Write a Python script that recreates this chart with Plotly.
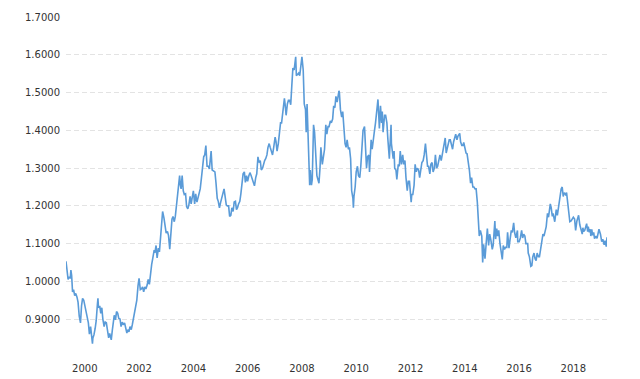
import plotly.graph_objects as go

dates = [
"1999-11-05","1999-11-19","1999-12-03","1999-12-17",
"2000-01-01","2000-01-10","2000-01-20","2000-02-01","2000-02-15","2000-03-01","2000-03-15","2000-04-01","2000-04-15","2000-05-01","2000-05-18","2000-06-01","2000-06-15","2000-07-01","2000-07-15","2000-08-01","2000-08-15","2000-09-01","2000-09-15","2000-10-01","2000-10-15","2000-10-26","2000-11-01","2000-11-15","2000-12-01","2000-12-15",
"2001-01-01","2001-01-08","2001-01-15","2001-02-01","2001-02-15","2001-03-01","2001-03-15","2001-04-01","2001-04-15","2001-05-01","2001-05-15","2001-06-01","2001-06-15","2001-07-06","2001-07-20","2001-08-01","2001-08-15","2001-09-01","2001-09-15","2001-10-01","2001-10-15","2001-11-01","2001-11-15","2001-12-01","2001-12-15",
"2002-01-01","2002-01-15","2002-02-01","2002-02-15","2002-03-01","2002-03-15","2002-04-01","2002-04-15","2002-05-01","2002-05-15","2002-06-01","2002-06-15","2002-07-01","2002-07-15","2002-08-01","2002-08-15","2002-09-01","2002-09-15","2002-10-01","2002-10-15","2002-11-01","2002-11-15","2002-12-01","2002-12-15",
"2003-01-01","2003-01-15","2003-02-01","2003-02-15","2003-03-01","2003-03-15","2003-04-01","2003-04-15","2003-05-01","2003-05-15","2003-05-28","2003-06-15","2003-07-01","2003-07-15","2003-08-01","2003-08-15","2003-09-01","2003-09-15","2003-10-01","2003-10-15","2003-11-01","2003-11-15","2003-12-01","2003-12-15",
"2004-01-01","2004-01-12","2004-01-22","2004-02-01","2004-02-15","2004-03-01","2004-03-15","2004-04-01","2004-04-15","2004-05-01","2004-05-15","2004-06-01","2004-06-15","2004-07-01","2004-07-15","2004-08-01","2004-08-15","2004-09-01","2004-09-15","2004-10-01","2004-10-15","2004-11-01","2004-11-15","2004-12-01","2004-12-15","2004-12-30",
"2005-01-15","2005-02-01","2005-02-15","2005-03-01","2005-03-11","2005-03-25","2005-04-15","2005-05-01","2005-05-15","2005-06-01","2005-06-15","2005-07-01","2005-07-15","2005-08-01","2005-08-15","2005-09-01","2005-09-15","2005-10-01","2005-10-15","2005-11-01","2005-11-15","2005-12-01","2005-12-15",
"2006-01-01","2006-01-15","2006-02-01","2006-02-15","2006-03-01","2006-03-15","2006-04-01","2006-04-15","2006-05-01","2006-05-15","2006-06-01","2006-06-15","2006-07-01","2006-07-15","2006-08-01","2006-08-15","2006-09-01","2006-09-15","2006-10-01","2006-10-15","2006-11-01","2006-11-15","2006-12-01","2006-12-15",
"2007-01-01","2007-01-15","2007-02-01","2007-02-15","2007-03-01","2007-03-15","2007-04-01","2007-04-15","2007-05-01","2007-05-15","2007-06-01","2007-06-15","2007-07-01","2007-07-20","2007-08-01","2007-08-15","2007-09-01","2007-09-15","2007-10-01","2007-10-15","2007-11-01","2007-11-22","2007-12-01","2007-12-15",
"2008-01-01","2008-01-15","2008-02-01","2008-02-15","2008-03-01","2008-03-15","2008-04-01","2008-04-22","2008-05-01","2008-05-15","2008-06-01","2008-06-15","2008-07-01","2008-07-15","2008-08-01","2008-08-15","2008-09-01","2008-09-10","2008-09-22","2008-10-01","2008-10-15","2008-10-27","2008-11-04","2008-11-20","2008-12-01","2008-12-18",
"2009-01-01","2009-01-15","2009-02-01","2009-02-15","2009-03-01","2009-03-15","2009-03-27","2009-04-15","2009-05-01","2009-05-15","2009-06-01","2009-06-15","2009-07-01","2009-07-15","2009-08-01","2009-08-15","2009-09-01","2009-09-15","2009-10-01","2009-10-15","2009-11-01","2009-11-25","2009-12-01","2009-12-15",
"2010-01-01","2010-01-15","2010-02-01","2010-02-15","2010-03-01","2010-03-15","2010-04-01","2010-04-15","2010-05-01","2010-05-15","2010-06-01","2010-06-07","2010-06-15","2010-07-01","2010-07-15","2010-08-01","2010-08-15","2010-09-01","2010-09-15","2010-10-01","2010-10-15","2010-11-04","2010-11-15","2010-12-01","2010-12-15",
"2011-01-01","2011-01-10","2011-01-25","2011-02-01","2011-02-15","2011-03-01","2011-03-15","2011-04-01","2011-04-15","2011-05-04","2011-05-23","2011-06-07","2011-06-22","2011-07-01","2011-07-12","2011-08-01","2011-08-15","2011-09-01","2011-09-15","2011-10-04","2011-10-27","2011-11-01","2011-11-25","2011-12-07","2011-12-15",
"2012-01-01","2012-01-13","2012-02-01","2012-02-15","2012-02-28","2012-03-15","2012-04-01","2012-04-15","2012-05-01","2012-05-15","2012-06-01","2012-06-15","2012-07-01","2012-07-24","2012-08-01","2012-08-15","2012-09-01","2012-09-15","2012-10-01","2012-10-15","2012-11-01","2012-11-15","2012-12-01","2012-12-15",
"2013-01-01","2013-01-15","2013-02-01","2013-02-15","2013-03-01","2013-03-15","2013-04-01","2013-04-15","2013-05-01","2013-05-15","2013-06-01","2013-06-15","2013-07-01","2013-07-15","2013-08-01","2013-08-15","2013-09-01","2013-09-15","2013-10-01","2013-10-25","2013-11-07","2013-11-20","2013-12-01","2013-12-18",
"2014-01-01","2014-01-15","2014-02-01","2014-02-15","2014-03-01","2014-03-15","2014-04-01","2014-04-15","2014-05-08","2014-05-20","2014-06-05","2014-06-20","2014-07-01","2014-07-15","2014-08-01","2014-08-15","2014-09-01","2014-09-15","2014-10-01","2014-10-15","2014-11-01","2014-11-15","2014-12-01","2014-12-15","2014-12-31",
"2015-01-15","2015-01-26","2015-02-10","2015-03-01","2015-03-13","2015-03-26","2015-04-13","2015-05-01","2015-05-15","2015-06-01","2015-06-15","2015-07-01","2015-07-20","2015-08-01","2015-08-24","2015-09-03","2015-09-18","2015-10-01","2015-10-15","2015-11-01","2015-11-15","2015-12-02","2015-12-15",
"2016-01-01","2016-01-15","2016-02-01","2016-02-11","2016-03-01","2016-03-15","2016-04-01","2016-04-15","2016-05-03","2016-05-15","2016-06-01","2016-06-23","2016-06-27","2016-07-15","2016-08-01","2016-08-18","2016-09-01","2016-09-15","2016-10-01","2016-10-15","2016-11-08","2016-11-15","2016-12-01","2016-12-20",
"2017-01-03","2017-01-15","2017-02-01","2017-02-15","2017-03-01","2017-03-15","2017-04-01","2017-04-15","2017-05-01","2017-05-15","2017-06-01","2017-06-15","2017-07-01","2017-07-15","2017-08-01","2017-08-15","2017-09-08","2017-09-20","2017-10-05","2017-10-15","2017-11-07","2017-11-27","2017-12-12","2017-12-31",
"2018-01-15","2018-01-25","2018-02-01","2018-02-15","2018-03-01","2018-03-15","2018-04-01","2018-04-15","2018-05-01","2018-05-15","2018-05-29","2018-06-15","2018-07-01","2018-07-15","2018-08-01","2018-08-15","2018-09-01","2018-09-24","2018-10-10","2018-10-31","2018-11-12","2018-11-20","2018-12-01","2018-12-15","2018-12-31",
"2019-01-10","2019-01-24","2019-02-01","2019-02-15","2019-03-01","2019-03-07","2019-03-20","2019-04-01","2019-04-15","2019-04-26","2019-05-15","2019-05-30","2019-06-15","2019-06-25","2019-07-15","2019-08-01","2019-08-15","2019-09-03","2019-09-15","2019-10-01","2019-10-11",
]

rates = [
1.053,1.035,1.005,1.012,
1.008,1.030,1.015,0.972,0.978,0.962,0.968,0.958,0.945,0.908,0.890,0.935,0.955,0.950,0.935,0.920,0.900,0.890,0.860,0.880,0.855,0.835,0.850,0.858,0.875,0.895,
0.940,0.955,0.930,0.935,0.915,0.930,0.900,0.880,0.892,0.890,0.872,0.850,0.862,0.845,0.870,0.885,0.910,0.898,0.920,0.915,0.902,0.900,0.880,0.892,0.885,
0.890,0.880,0.863,0.872,0.866,0.880,0.872,0.885,0.902,0.912,0.935,0.950,0.988,1.008,0.978,0.980,0.985,0.972,0.985,0.980,0.990,1.005,0.992,1.020,
1.045,1.060,1.080,1.078,1.095,1.062,1.088,1.078,1.120,1.155,1.185,1.168,1.148,1.128,1.132,1.122,1.085,1.125,1.165,1.172,1.158,1.172,1.200,1.230,
1.260,1.280,1.255,1.245,1.280,1.240,1.230,1.232,1.198,1.192,1.202,1.225,1.205,1.220,1.240,1.205,1.232,1.210,1.222,1.240,1.245,1.275,1.300,1.330,1.335,1.360,
1.305,1.305,1.298,1.322,1.345,1.295,1.292,1.290,1.262,1.220,1.212,1.195,1.208,1.220,1.235,1.245,1.225,1.202,1.200,1.200,1.172,1.175,1.195,
1.185,1.210,1.212,1.190,1.195,1.205,1.212,1.232,1.265,1.285,1.290,1.262,1.280,1.265,1.280,1.288,1.280,1.270,1.265,1.253,1.275,1.285,1.330,1.315,
1.320,1.295,1.300,1.315,1.320,1.325,1.335,1.355,1.365,1.355,1.345,1.335,1.355,1.382,1.370,1.345,1.365,1.390,1.420,1.420,1.450,1.485,1.470,1.440,
1.470,1.480,1.480,1.468,1.520,1.565,1.560,1.595,1.545,1.550,1.552,1.545,1.575,1.595,1.560,1.470,1.455,1.395,1.470,1.400,1.345,1.255,1.295,1.255,1.270,1.415,
1.395,1.320,1.280,1.270,1.260,1.300,1.355,1.310,1.330,1.350,1.415,1.390,1.410,1.410,1.425,1.420,1.430,1.465,1.460,1.490,1.475,1.505,1.500,1.455,
1.435,1.450,1.390,1.365,1.355,1.375,1.350,1.355,1.325,1.240,1.220,1.195,1.225,1.250,1.290,1.305,1.280,1.275,1.305,1.370,1.400,1.410,1.360,1.300,1.330,
1.335,1.290,1.365,1.375,1.350,1.380,1.395,1.420,1.445,1.482,1.405,1.465,1.420,1.450,1.395,1.440,1.440,1.420,1.375,1.325,1.415,1.365,1.325,1.345,1.300,
1.295,1.270,1.310,1.305,1.345,1.310,1.335,1.310,1.320,1.275,1.240,1.265,1.265,1.210,1.230,1.230,1.255,1.310,1.290,1.300,1.295,1.275,1.300,1.315,
1.320,1.335,1.365,1.335,1.305,1.305,1.285,1.310,1.315,1.290,1.300,1.335,1.300,1.305,1.325,1.335,1.320,1.335,1.355,1.380,1.340,1.350,1.360,1.375,
1.375,1.360,1.350,1.370,1.380,1.390,1.375,1.385,1.392,1.370,1.360,1.360,1.368,1.355,1.340,1.338,1.315,1.295,1.260,1.275,1.250,1.250,1.245,1.245,1.210,
1.160,1.120,1.135,1.120,1.050,1.098,1.060,1.120,1.140,1.095,1.125,1.110,1.085,1.095,1.160,1.112,1.140,1.120,1.135,1.100,1.075,1.058,1.095,
1.085,1.090,1.090,1.130,1.088,1.110,1.135,1.130,1.155,1.130,1.115,1.135,1.105,1.105,1.115,1.135,1.115,1.125,1.120,1.100,1.100,1.075,1.065,1.040,
1.042,1.065,1.075,1.060,1.055,1.075,1.065,1.065,1.090,1.105,1.125,1.120,1.140,1.145,1.180,1.170,1.205,1.195,1.172,1.180,1.158,1.190,1.175,1.200,
1.225,1.245,1.245,1.250,1.225,1.235,1.230,1.235,1.205,1.185,1.158,1.160,1.165,1.170,1.165,1.135,1.160,1.175,1.150,1.135,1.125,1.142,1.132,1.135,1.145,
1.153,1.132,1.145,1.130,1.138,1.120,1.138,1.122,1.130,1.113,1.120,1.114,1.125,1.138,1.125,1.105,1.112,1.097,1.108,1.092,1.117,
]

x_tick_years = ["2000","2002","2004","2006","2008","2010","2012","2014","2016","2018"]
x_tick_dates = [y + "-07-15" for y in x_tick_years]
y_tick_values = [0.8, 0.9, 1.0, 1.1, 1.2, 1.3, 1.4, 1.5, 1.6, 1.7]
y_tick_labels = ["", "0.9000", "1.0000", "1.1000", "1.2000", "1.3000", "1.4000", "1.5000", "1.6000", "1.7000"]

fig = go.Figure()
fig.add_trace(go.Scatter(
    x=dates, y=rates, mode="lines",
    line=dict(color="#5a9bd8", width=1.6),
    hoverinfo="skip",
))

font = dict(family="DejaVu Sans, Verdana, sans-serif", size=10, color="#333333")

# The page body has an 8px default margin, so the figure is sized to fill the
# remaining window area.
fig.update_layout(
    width=632, height=371,
    margin=dict(l=58, r=33, t=9, b=22, autoexpand=False),
    paper_bgcolor="white", plot_bgcolor="white",
    showlegend=False,
    xaxis=dict(
        type="date",
        range=[dates[0], dates[-1]],
        tickmode="array", tickvals=x_tick_dates, ticktext=x_tick_years,
        showgrid=False, zeroline=False, showline=False, automargin=False,
        ticks="", tickfont=font, ticklabelstandoff=4,
    ),
    yaxis=dict(
        range=[0.7995, 1.7005],
        tickmode="array", tickvals=y_tick_values, ticktext=y_tick_labels,
        showgrid=True, gridcolor="#e3e3e3", gridwidth=1, griddash="5px,3px",
        zeroline=False, showline=False, automargin=False,
        ticks="", tickfont=font, ticklabelstandoff=5,
    ),
)

fig.write_html("out.html", config={"displayModeBar": False})
